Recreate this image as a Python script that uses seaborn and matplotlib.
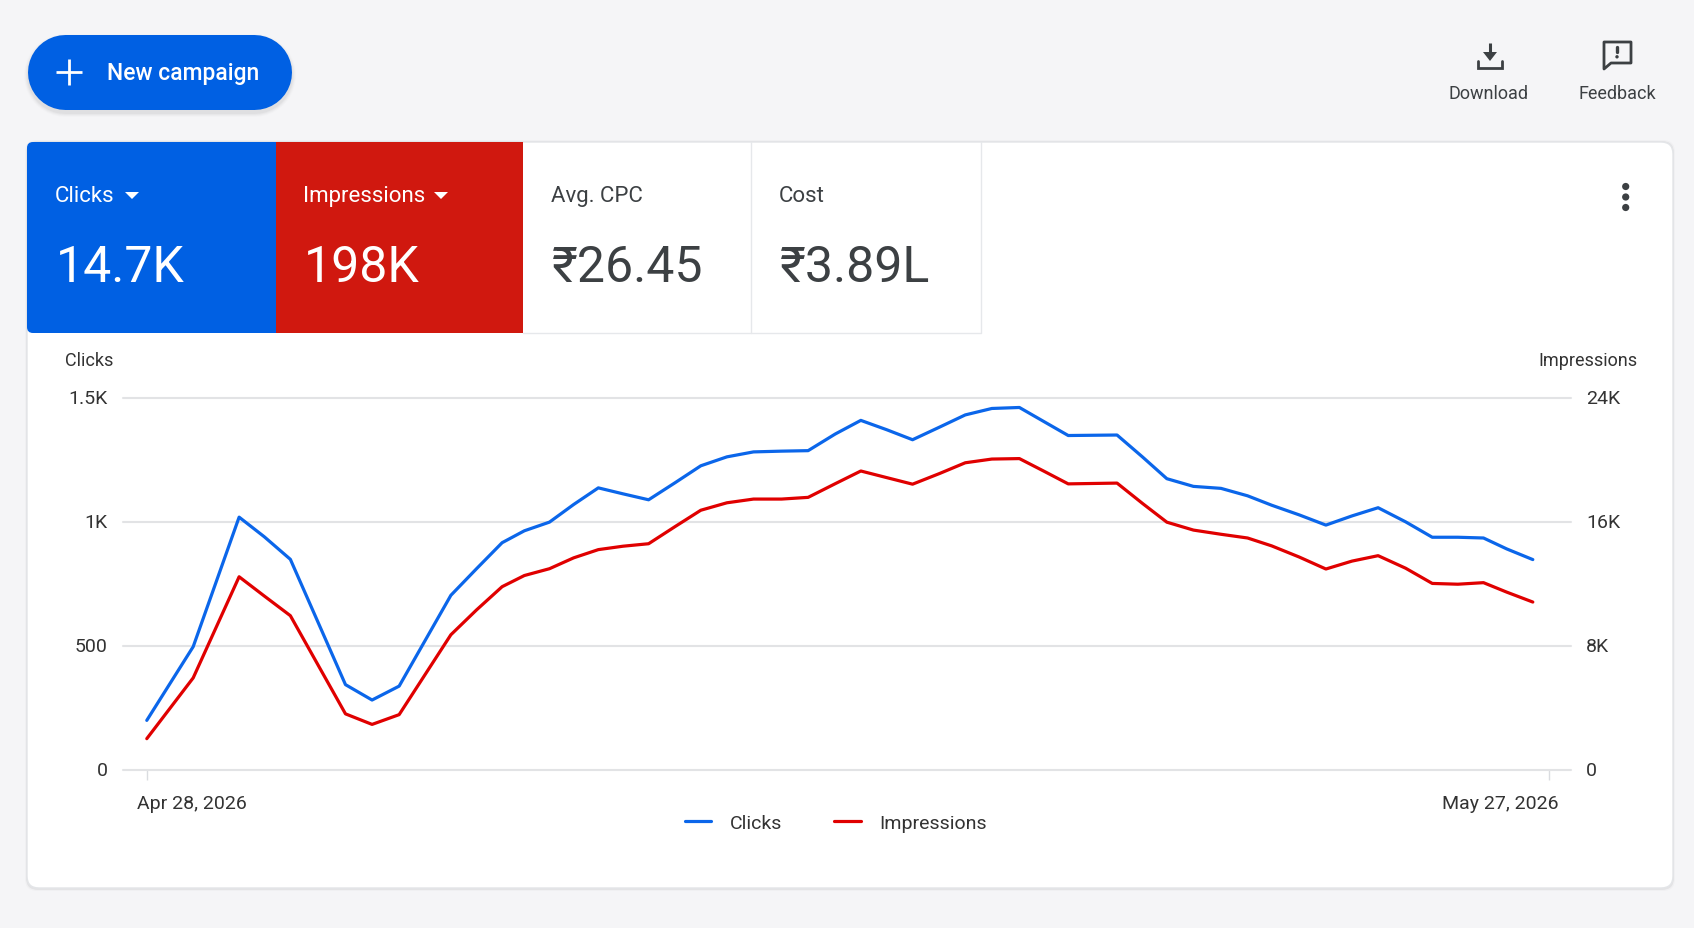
import matplotlib
matplotlib.use("Agg")
import matplotlib.pyplot as plt
import seaborn as sns
import pandas as pd
from matplotlib.patches import FancyBboxPatch, Rectangle, Polygon, Circle
from matplotlib.transforms import ScaledTranslation

# --- DATA ---
sample_day = [0, 0.96, 1.91, 2.43, 2.97, 4.11, 4.66, 5.22, 6.29, 6.82, 7.35, 7.81, 8.33, 8.83, 9.34,
              9.85, 10.38, 10.93, 11.46, 12.0, 12.55, 13.13, 13.68, 14.24, 14.77, 15.31, 15.84, 16.4,
              16.93, 17.48, 18.05, 18.55, 19.06, 20.07, 20.6, 21.1, 21.65, 22.22, 22.77, 23.27, 23.84,
              24.39, 24.93, 25.47, 26.04, 26.59, 27.12, 27.65, 28.13, 28.67]
clicks = [200, 497, 1019, 940, 849, 344, 282, 338, 704, 811, 916, 964, 999, 1070, 1137,
          1113, 1089, 1158, 1226, 1262, 1282, 1285, 1287, 1354, 1409, 1371, 1331, 1382,
          1431, 1457, 1461, 1405, 1348, 1350, 1261, 1174, 1143, 1135, 1105, 1067, 1028,
          987, 1024, 1057, 1000, 938, 938, 935, 891, 848]
impressions = [2020, 5940, 12460, 11220, 9950, 3620, 2940, 3570, 8720, 10320, 11820, 12540, 12980, 13680, 14210,
               14430, 14590, 15700, 16750, 17230, 17470, 17470, 17580, 18460, 19280, 18850, 18430, 19120,
               19810, 20050, 20080, 19280, 18450, 18500, 17180, 15980, 15470, 15200, 14960, 14450, 13730,
               12960, 13470, 13820, 13010, 12030, 11980, 12080, 11470, 10830]

left_ticks = [0, 500, 1000, 1500]
left_labels = ["0", "500", "1K", "1.5K"]
right_ticks = [0, 8000, 16000, 24000]
right_labels = ["0", "8K", "16K", "24K"]
date_ticks = [0, 29]
date_labels = ["Apr 28, 2026", "May 27, 2026"]

tile_names = ["Clicks", "Impressions", "Avg. CPC", "Cost"]
tile_values = ["14.7K", "198K", "₹26.45", "₹3.89L"]

BLUE = "#0060E3"
RED = "#D0180F"
LINE_BLUE = "#0B66EA"
LINE_RED = "#E00000"
DARK = "#3C4043"
BG = "#F5F5F7"
W, H = 1694, 929

df = pd.DataFrame({"day": sample_day, "Clicks": clicks, "Impressions": impressions})

sns.set_theme(style="white")
plt.rcParams['font.family'] = ['Roboto', 'Noto Sans', 'DejaVu Sans']

fig = plt.figure(figsize=(W / 100, H / 100), dpi=100, facecolor=BG)

# --- STEP 1: page furniture, drawn in pixel coordinates ---
ui = fig.add_axes([0, 0, 1, 1], zorder=0)
ui.set_xlim(0, W)
ui.set_ylim(H - 1, -1)
ui.axis("off")

def pill(x0, y0, x1, y1, radius, **kw):
    box = FancyBboxPatch((x0 + radius, y0 + radius), x1 - x0 - 2 * radius, y1 - y0 - 2 * radius,
                         boxstyle=f"round,pad={radius},rounding_size={radius}", **kw)
    ui.add_patch(box)

def capsule(x0, y0, x1, y1, color, alpha=1):
    # one thick round-capped line, so alpha does not double up anywhere
    r = (y1 - y0) / 2
    ui.plot([x0 + r, x1 - r], [y0 + r, y0 + r], color=color, alpha=alpha,
            lw=(y1 - y0) * 0.72, solid_capstyle="round")

# button with soft shadow
for grow, alpha in [(4, 0.012), (3, 0.018), (2, 0.025), (1, 0.03)]:
    capsule(27 - grow, 34 - grow + 3, 291 + grow, 109 + grow + 3, "black", alpha)
capsule(27, 34, 291, 109, BLUE)
ui.plot([56, 82], [72, 72], color="white", lw=2, solid_capstyle="butt")
ui.plot([69, 69], [59, 85], color="white", lw=2, solid_capstyle="butt")
ui.text(107, 72.5, "New campaign", color="white", fontsize=16.5, fontweight="medium", va="center", ha="left")

# download icon
ui.plot([1490, 1490], [43, 56], color=DARK, lw=2.2, solid_capstyle="butt")
ui.add_patch(Polygon([[1483, 52], [1497, 52], [1490, 61]], fc=DARK, ec="none"))
ui.plot([1478, 1478, 1502, 1502], [61, 68, 68, 61], color=DARK, lw=2, solid_joinstyle="miter")
ui.text(1489, 93, "Download", color=DARK, fontsize=13, ha="center", va="center")

# feedback icon
ui.add_patch(Polygon([[1604, 42], [1631, 42], [1631, 63], [1611, 63], [1604, 69]], closed=True,
                     fc="none", ec=DARK, lw=2, joinstyle="round"))
ui.plot([1617, 1617], [47, 52], color=DARK, lw=2.4, solid_capstyle="round")
ui.add_patch(Circle((1617, 56.8), 1.7, fc=DARK, ec="none"))
ui.text(1617, 93, "Feedback", color=DARK, fontsize=13, ha="center", va="center")

# card
for grow, alpha in [(2, 0.02), (1, 0.05)]:
    pill(27 - grow, 142 - grow, 1673 + grow, 888 + grow + 1, 12, fc="black", ec="none", alpha=alpha)
pill(27, 142, 1673, 888, 12, fc="white", ec="#E3E5E8", lw=1)

# metric tiles
ui.add_patch(FancyBboxPatch((33, 148), 237, 179, boxstyle="round,pad=6,rounding_size=6", fc=BLUE, ec="none"))
ui.add_patch(Rectangle((100, 142), 176, 191, fc=BLUE, ec="none"))
ui.add_patch(Rectangle((276, 142), 247, 191, fc=RED, ec="none"))
ui.plot([523, 980.5, 980.5], [332.7, 332.7, 142], color="#E6E8EB", lw=1)
ui.plot([751, 751], [142, 332.7], color="#E6E8EB", lw=1)

tile_x = [55, 303, 551, 779]
tile_colors = ["white", "white", DARK, DARK]
for x, name, value, col in zip(tile_x, tile_names, tile_values, tile_colors):
    ui.text(x, 195, name, color=col, fontsize=16, ha="left", va="center")
    ui.text(x + 1, 267, value, color=col, fontsize=36, ha="left", va="center")
for cx in [132, 441]:
    ui.add_patch(Polygon([[cx - 7, 192], [cx + 7, 192], [cx, 199]], fc="white", ec="none"))

# three dots menu
for cy in [186.5, 197, 207.5]:
    ui.add_patch(Circle((1625.7, cy), 3.6, fc=DARK, ec="none"))

# --- STEP 2: the chart ---
ax_left, ax_right, ax_top, ax_bottom = 123, 1571, 398.8, 771
ax = fig.add_axes([ax_left / W, 1 - ax_bottom / H, (ax_right - ax_left) / W, (ax_bottom - ax_top) / H], zorder=1)
ax.patch.set_alpha(0)
ax2 = ax.twinx()

sns.lineplot(data=df, x="day", y="Clicks", ax=ax, color=LINE_BLUE, lw=2.3, label="Clicks", legend=False, zorder=3)
sns.lineplot(data=df, x="day", y="Impressions", ax=ax2, color=LINE_RED, lw=2.3, label="Impressions", legend=False, zorder=3)

ax.set_xlim(-0.492, 29.46)
ax.set_ylim(0, 1500)
ax2.set_ylim(0, 24000)
ax.set_xlabel("")
ax.set_ylabel("")
ax2.set_ylabel("")

ax.set_yticks(left_ticks, left_labels)
ax2.set_yticks(right_ticks, right_labels)
ax.set_xticks(date_ticks, date_labels)
ax.grid(axis="y", color="#E2E3E5", lw=1.5)
ax.set_axisbelow(True)
for line in ax.yaxis.get_gridlines():
    line.set_clip_on(False)
for a in [ax, ax2]:
    for s in a.spines.values():
        s.set_visible(False)

ax.tick_params(axis="y", length=0, pad=11, labelsize=14, labelcolor="#333333")
ax2.tick_params(axis="y", length=0, pad=11, labelsize=14, labelcolor="#333333")
ax.tick_params(axis="x", length=7, width=1, color="#DADCE0", pad=10, labelsize=14, labelcolor="#333333", bottom=True)

# y labels sit a touch above their gridlines
for lab in ax.get_yticklabels() + ax2.get_yticklabels():
    lab.set_transform(lab.get_transform() + ScaledTranslation(0, 1.5 / 100, fig.dpi_scale_trans))

# date labels sit off-centre from their ticks
labs = ax.get_xticklabels()
labs[0].set_ha("left")
labs[0].set_transform(labs[0].get_transform() + ScaledTranslation(-10 / 100, 0, fig.dpi_scale_trans))
labs[1].set_ha("right")
labs[1].set_transform(labs[1].get_transform() + ScaledTranslation(10 / 100, 0, fig.dpi_scale_trans))

ui.text(65, 360, "Clicks", color="#333333", fontsize=13, ha="left", va="center")
ui.text(1637, 360, "Impressions", color="#333333", fontsize=13, ha="right", va="center")

h1, l1 = ax.get_legend_handles_labels()
h2, l2 = ax2.get_legend_handles_labels()
fig.legend(h1 + h2, l1 + l2, ncol=2, frameon=False, loc="center", bbox_to_anchor=(836 / W, 1 - 824 / H),
           fontsize=14, handlelength=1.35, handletextpad=0.95, columnspacing=2.68, labelcolor="#333333")

fig.savefig("out.png", dpi=100, facecolor=BG)
